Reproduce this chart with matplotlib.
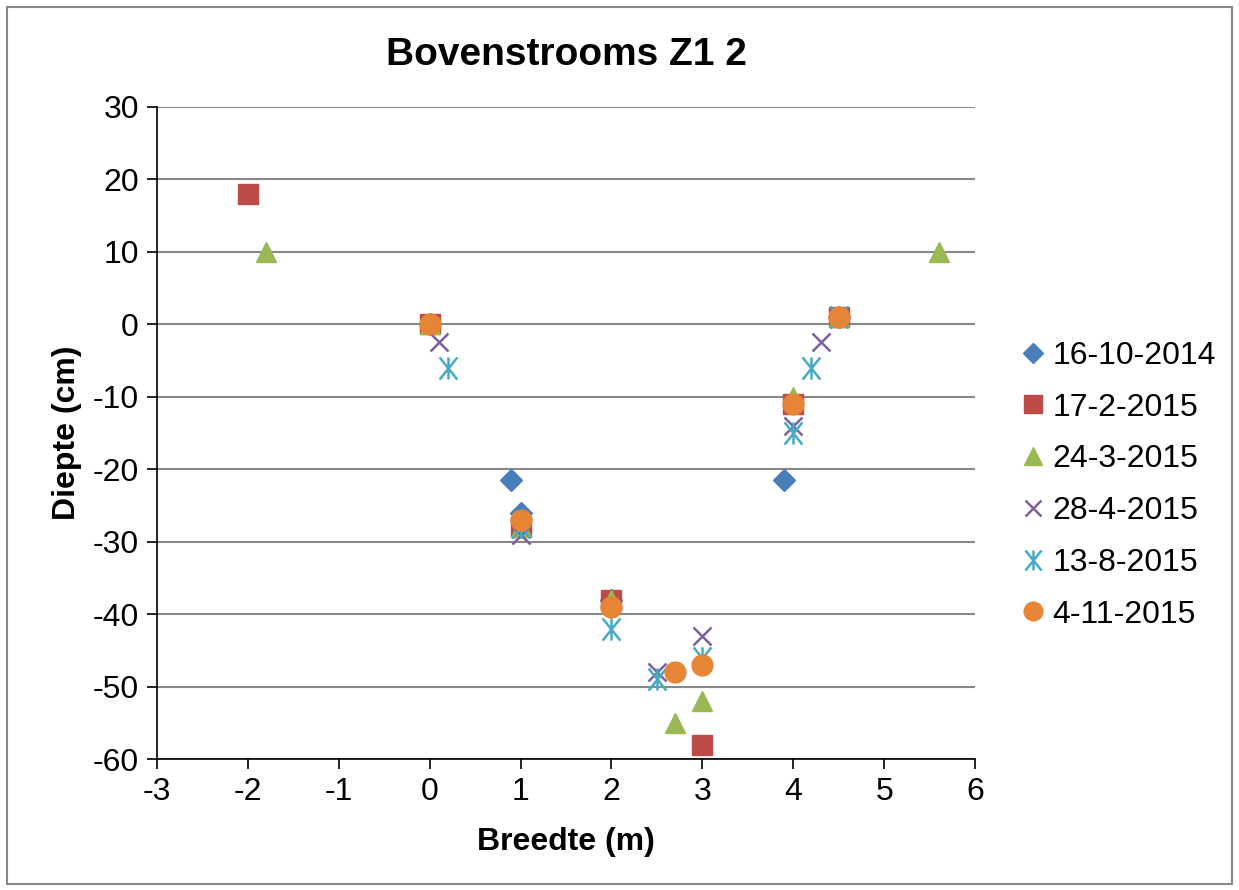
import numpy as np
import matplotlib.pyplot as plt
from matplotlib.path import Path
from matplotlib.patches import Rectangle

plt.rcParams['font.family'] = ['Liberation Sans', 'DejaVu Sans']
plt.rcParams['axes.unicode_minus'] = False

# series: breedte (m) / diepte (cm)
labels = ['16-10-2014', '17-2-2015', '24-3-2015', '28-4-2015', '13-8-2015', '4-11-2015']

x_1610 = [0, 0.9, 1, 2, 3.9, 4.5]
y_1610 = [0, -21.5, -26, -38, -21.5, 1]

x_1702 = [-2, 0, 1, 2, 3, 4, 4.5]
y_1702 = [18, 0, -28, -38, -58, -11, 1]

x_2403 = [-1.8, 0, 1, 2, 2.7, 3, 4, 4.5, 5.6]
y_2403 = [10, 0, -28, -38, -55, -52, -10, 1, 10]

x_2804 = [0.1, 1, 2.5, 3, 4, 4.3]
y_2804 = [-2.5, -29, -48, -43, -14, -2.5]

x_1308 = [0.2, 1, 2, 2.5, 3, 4, 4.2, 4.5]
y_1308 = [-6, -28, -42, -49, -46, -15, -6, 1]

x_0411 = [0, 1, 2, 2.7, 3, 4, 4.5]
y_0411 = [0, -27, -39, -48, -47, -11, 1]

# asterisk like Excel: X plus vertical stroke
star = Path([(-0.8, -1), (0.8, 1), (-0.8, 1), (0.8, -1), (0, -1), (0, 1)],
            [Path.MOVETO, Path.LINETO, Path.MOVETO, Path.LINETO, Path.MOVETO, Path.LINETO])

fig = plt.figure(figsize=(12.39, 8.9), dpi=100)
ax = fig.add_axes([0.1267, 0.147, 0.6603, 0.7328])

ax.plot(x_1610, y_1610, 'D', color='#4A7EBB', ms=11.5, ls='none', label=labels[0])
ax.plot(x_1702, y_1702, 's', color='#BE4B48', ms=14, ls='none', label=labels[1])
ax.plot(x_2403, y_2403, '^', color='#98B954', ms=15, ls='none', label=labels[2])
ax.plot(x_2804, y_2804, 'x', color='#7D60A0', ms=13, mew=1.8, ls='none', label=labels[3])
ax.plot(x_1308, y_1308, marker=star, color='#46AAC5', ms=16, mew=1.8, ls='none', label=labels[4])
ax.plot(x_0411, y_0411, 'o', color='#E58535', ms=15, ls='none', label=labels[5])

ax.set_xlim(-3, 6)
ax.set_ylim(-60, 30)
ax.set_xticks(np.arange(-3, 7, 1))
ax.set_yticks(np.arange(-60, 40, 10))
ax.grid(axis='y', color='#888888', lw=1.5)
ax.set_axisbelow(True)
for s in ['top', 'right']:
    ax.spines[s].set_visible(False)
for s in ['left', 'bottom']:
    ax.spines[s].set_color('black')
    ax.spines[s].set_linewidth(1.2)
ax.tick_params(labelsize=23, length=7, width=1.2, pad=6)

ax.set_title('Bovenstrooms Z1 2', fontsize=28, fontweight='bold', pad=30)
ax.set_xlabel('Breedte (m)', fontsize=23, fontweight='bold', labelpad=14)
ax.set_ylabel('Diepte (cm)', fontsize=23, fontweight='bold', labelpad=8)

ax.legend(loc='center left', bbox_to_anchor=(1.02, 0.42), frameon=False, fontsize=23,
          handlelength=0.8, handletextpad=0.2, labelspacing=0.68, markerscale=0.9)

fig.patches.append(Rectangle((0.006, 0.007), 0.988, 0.985, transform=fig.transFigure,
                             fill=False, edgecolor='#888888', lw=1.5))

fig.savefig('out.png', dpi=100)
